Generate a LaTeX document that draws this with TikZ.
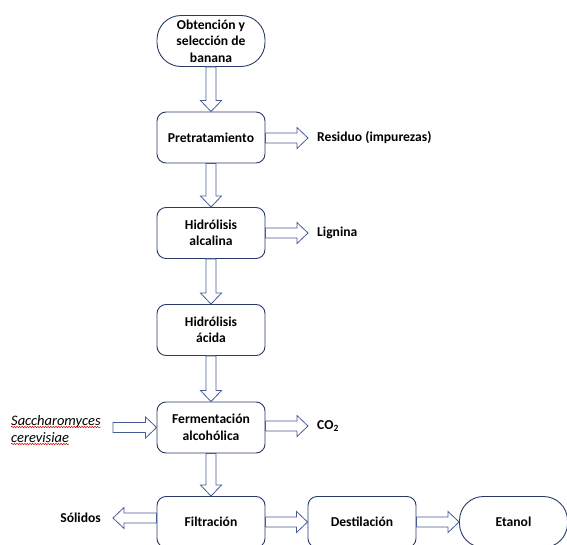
\documentclass[tikz,border=0pt]{standalone}
\usepackage{fontspec}
\setmainfont{Carlito}
\usetikzlibrary{calc,decorations.pathmorphing}

\definecolor{boxline}{RGB}{40,58,105}
\definecolor{flowline}{RGB}{70,92,150}

\tikzset{
  stepbox/.style={draw=boxline, line width=0.9pt, rounded corners=9pt,
    minimum width=108pt, minimum height=51pt, align=center,
    font=\fontsize{13.6}{16.5}\selectfont\bfseries},
  endbox/.style={stepbox, rounded corners=24pt},
  outtext/.style={inner sep=0pt, font=\fontsize{13.6}{16.5}\selectfont\bfseries},
  flow/.style={draw=flowline, fill=white, line width=0.8pt, line join=miter,
    to path={($(\tikztostart)!5pt!90:(\tikztotarget)$)
      -- ($(\tikztotarget)!11pt!(\tikztostart)!5pt!90:(\tikztotarget)$)
      -- ($(\tikztotarget)!11pt!(\tikztostart)!10.5pt!90:(\tikztotarget)$)
      -- (\tikztotarget)
      -- ($(\tikztotarget)!11pt!(\tikztostart)!10.5pt!-90:(\tikztotarget)$)
      -- ($(\tikztotarget)!11pt!(\tikztostart)!5pt!-90:(\tikztotarget)$)
      -- ($(\tikztostart)!5pt!-90:(\tikztotarget)$) -- cycle}},
  spell/.style={draw=red!85!black, line width=0.5pt, decorate,
    decoration={snake, amplitude=0.7pt, segment length=2.6pt}}
}

\begin{document}
\begin{tikzpicture}[x=1pt, y=-1pt]
  \useasboundingbox (0,0) rectangle (567,545);
  \clip (0,0) rectangle (567,545);

  % main line
  \node[endbox] (obt) at (211,41) {Obtención y\\selección de\\banana};
  \node[stepbox] (pre) at (211,137.5) {Pretratamiento};
  \node[stepbox] (hal) at (211,233) {Hidrólisis\\alcalina};
  \node[stepbox] (hac) at (211,330) {Hidrólisis\\ácida};
  \node[stepbox] (fer) at (211,427.5) {Fermentación\\alcohólica};
  \node[stepbox] (fil) at (211,522) {Filtración};
  \node[stepbox] (des) at (362,522) {Destilación};
  \node[endbox] (eta) at (513.5,522) {Etanol};

  % side streams
  \node[outtext, anchor=west] (res) at (317,138) {Residuo (impurezas)};
  \node[outtext, anchor=west] (lig) at (317,233) {Lignina};
  \node[outtext, anchor=west] (co2) at (317,426) {CO\textsubscript{2}};
  \node[outtext, anchor=east] (sol) at (101,518) {Sólidos};
  \node[inner sep=0pt, anchor=base west, font=\fontsize{14.5}{17}\selectfont\itshape] (sac) at (11,425) {Saccharomyces};
  \node[inner sep=0pt, anchor=base west, font=\fontsize{14.5}{17}\selectfont\itshape] (cer) at (11,442) {cerevisiae};
  \draw[spell] ([yshift=-2pt]sac.base west) -- ([yshift=-2pt]sac.base east);
  \draw[spell] ([yshift=-2pt]cer.base west) -- ([yshift=-2pt]cer.base east);

  % free arrow ends
  \coordinate (resin) at ([xshift=-9pt]res.west);
  \coordinate (ligin) at ([xshift=-9pt]lig.west);
  \coordinate (co2in) at ([xshift=-9pt]co2.west);
  \coordinate (solin) at ([xshift=12pt]sol.east);
  \coordinate (sacout) at (113,0);

  % arrows
  \path[flow] (obt.south) to (pre.north);
  \path[flow] (pre.south) to (hal.north);
  \path[flow] (hal.south) to (hac.north);
  \path[flow] (hac.south) to (fer.north);
  \path[flow] (fer.south) to (fil.north);
  \path[flow] (pre.east |- resin) to (resin);
  \path[flow] (hal.east |- ligin) to (ligin);
  \path[flow] (fer.east |- co2in) to (co2in);
  \path[flow] (sacout |- fer.west) to (fer.west);
  \path[flow] (fil.west |- solin) to (solin);
  \path[flow] (fil.east) to (des.west);
  \path[flow] (des.east) to (eta.west);
\end{tikzpicture}
\end{document}
